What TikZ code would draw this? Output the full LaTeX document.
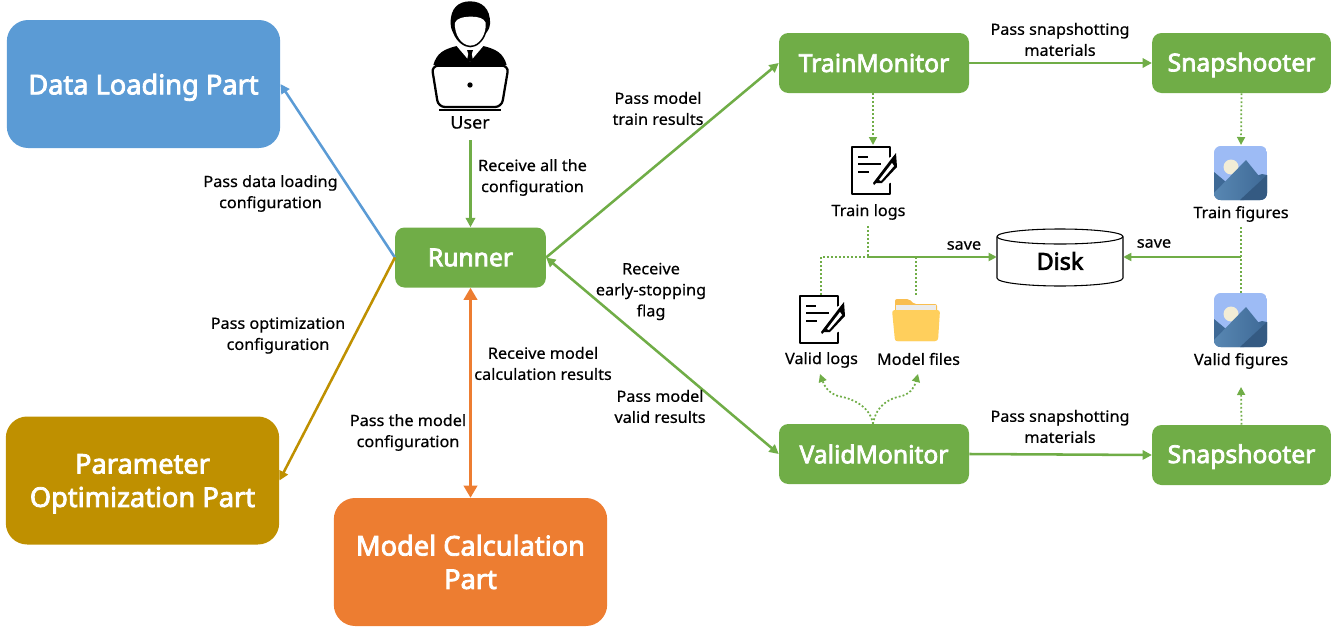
\documentclass[tikz,border=0pt]{standalone}
\usepackage{fontspec}
\setmainfont{Noto Sans}
\newfontfamily\boxfont[FakeBold=3]{Noto Sans}
\newfontfamily\labfont[FakeBold=0.5,FakeStretch=1.04]{Noto Sans}
\usetikzlibrary{arrows.meta,calc}
\definecolor{cblue}{HTML}{5B9BD5}
\definecolor{cgold}{HTML}{BF9000}
\definecolor{corange}{HTML}{ED7D31}
\definecolor{cgreen}{HTML}{70AD47}
\tikzset{
 x=0.75pt,y=-0.75pt,
 bigbox/.style={rounded corners=16pt,text=white,align=center,font=\boxfont\fontsize{20.4}{25}\selectfont,minimum width=205pt,minimum height=96pt,inner sep=0pt},
 greenbox/.style={fill=cgreen,rounded corners=7pt,text=white,font=\boxfont\fontsize{18.5}{21}\selectfont,minimum height=45pt,inner sep=0pt},
 lab/.style={align=center,font=\labfont\fontsize{11.7}{15.8}\selectfont,inner sep=0pt,text=black,yshift=-1.1pt},
 anchorbox/.style={inner sep=0pt,minimum width=#1,minimum height=#1},
 solidg/.style={draw=cgreen,line width=1.9pt,-{Triangle[length=7pt,width=7pt]}},
 dotg/.style={draw=cgreen,line width=1.3pt,dash pattern=on 1.4pt off 1.6pt},
 dotarrow/.style={dotg,-{Triangle[length=6pt,width=6pt,fill=cgreen]}},
}
\newcommand{\logicon}[2]{%
 \begin{scope}[shift={(#1,#2)}]
  \draw[line width=2.1pt,line join=round] (0,0) rectangle (38,47);
  \fill[white] (30,14) -- (43,8) -- (46,32) -- (26,42) -- cycle;
  \draw[line width=2.1pt] (6,10) -- (16,10) (6,17) -- (29,17) (6,25) -- (17,25);
  \fill (21,36) -- (40,11) -- (44,6) -- (45,20) -- (30,36) -- (24,36) -- (22,38) -- cycle;
  \fill[white] (27,33) -- (40,16) -- (42,19) -- (29,34) -- cycle;
 \end{scope}}
\newcommand{\figicon}[2]{%
 \begin{scope}[shift={(#1,#2)}]
  \begin{scope}
   \clip[rounded corners=5pt] (0,0) rectangle (53,54);
   \fill[color={rgb,255:red,157;green,187;blue,245}] (0,0) rectangle (53,54);
   \fill[color={rgb,255:red,243;green,237;blue,214}] (17,21) circle (7.5);
   \fill[color={rgb,255:red,62;green,105;blue,150}] (0,26) -- (12,36) -- (30,54) -- (0,54) -- cycle;
   \fill[color={rgb,255:red,62;green,105;blue,150}] (42,30) -- (48,28) -- (53,29) -- (53,54) -- (30,54) -- cycle;
   \shade[left color={rgb,255:red,88;green,135;blue,178},right color={rgb,255:red,62;green,105;blue,150}] (0,47) -- (32,14) -- (53,40) -- (30,54) -- (0,54) -- cycle;
   \fill[color={rgb,255:red,52;green,90;blue,130}] (26,54) -- (53,29) -- (53,54) -- cycle;
  \end{scope}
 \end{scope}}
\begin{document}
\begin{tikzpicture}
\useasboundingbox (0,0) rectangle (1336,632);
% big boxes
\node[bigbox,fill=cblue,text depth=0pt] (data) at (143.5,84) {Data Loading Part};
\node[bigbox,fill=cgold] (opt) at (142.5,480.5) {\rule{0pt}{19.5pt}Parameter\\Optimization Part};
\node[bigbox,fill=corange] (model) at (470.5,562) {Model Calculation\\Part};
% green boxes
\node[greenbox,minimum width=113pt] (runner) at (470.5,257.5) {Runner};
\node[greenbox,minimum width=142.5pt] (train) at (874,63) {TrainMonitor};
\node[greenbox,minimum width=134pt] (snapA) at (1241.5,63) {\rule{0pt}{17pt}Snapshooter};
\node[greenbox,minimum width=142.5pt] (valid) at (874,454) {ValidMonitor};
\node[greenbox,minimum width=134pt] (snapB) at (1241.5,455) {\rule{0pt}{16.5pt}Snapshooter};
% disk
\node[inner sep=0pt,minimum width=94.5pt,minimum height=43pt] (disk) at (1060,257) {};
\draw[line width=0.8pt,fill=white] (997,237) -- (997,278) .. controls (997,283) and (1029,286) .. (1060,286) .. controls (1091,286) and (1123,283) .. (1123,278) -- (1123,237);
\draw[line width=0.8pt,fill=white] (1060,236.5) ellipse [x radius=63,y radius=7.5];
\node[font=\boxfont\fontsize{17.5}{22}\selectfont] at (1060,261) {Disk};
% user
\begin{scope}[shift={(400,0)},scale=1/3]
 \fill (100,195) .. controls (110,160) and (130,148) .. (170,138) -- (250,138) .. controls (290,148) and (310,160) .. (320,195) -- cycle;
 \fill[white] (170,138) -- (210,185) -- (250,138) -- cycle;
 \fill (201,150) -- (219,150) -- (215,162) -- (220,185) -- (200,185) -- (205,162) -- cycle;
 \fill (152,72) .. controls (150,25) and (175,4) .. (210,4) .. controls (245,4) and (272,25) .. (270,72) .. controls (268,90) and (262,92) .. (258,100) .. controls (250,125) and (230,142) .. (211,142) .. controls (192,142) and (170,125) .. (160,100) .. controls (156,92) and (153,85) .. (152,72) -- cycle;
 \fill[white] (165,68) .. controls (170,55) and (190,50) .. (215,50) .. controls (235,50) and (252,55) .. (257,68) .. controls (260,100) and (240,136) .. (211,137) .. controls (182,136) and (162,100) .. (165,68) -- cycle;
 \draw[line width=1.7pt,rounded corners=5pt,fill=white] (95,197) -- (326,197) -- (305,321) -- (115,321) -- cycle;
 \fill (210,255) circle (8);
 \fill (117,327) rectangle (303,334);
\end{scope}
\node[inner sep=0pt,minimum width=60pt,minimum height=95pt] (usericon) at (470.5,65) {};
\node[lab,font=\labfont\fontsize{13}{15}\selectfont] (user) at (470,121) {User};
% icons with named anchors
\logicon{852}{147}
\node[anchorbox=30pt] (tlog) at (873,170) {};
\logicon{800}{296}
\node[anchorbox=30pt] (vlog) at (819,319) {};
\figicon{1214}{146}
\node[anchorbox=40pt] (tfig) at (1241,173) {};
\figicon{1214}{293}
\node[anchorbox=40pt] (vfig) at (1241,320) {};
% folder
\fill[color={rgb,255:red,249;green,190;blue,79},rounded corners=1.5pt] (895,341) -- (895,299) -- (909,299) -- (914,304) -- (937,304) -- (937,341) -- cycle;
\fill[color={rgb,255:red,235;green,235;blue,235}] (896,305) rectangle (936,313);
\fill[color={rgb,255:red,255;green,207;blue,92},rounded corners=2pt] (892,310) -- (940,310) -- (938,341) -- (895,341) -- cycle;
\node[inner sep=0pt,minimum width=36pt,minimum height=32pt] (folder) at (916,320) {};
% icon labels
\node[lab] (tlogl) at (868.5,210.5) {Train logs};
\node[lab] (vlogl) at (821.5,358.5) {Valid logs};
\node[lab] (foll) at (918.5,357.5) {Model files};
\node[lab] (tfigl) at (1241,212.5) {Train figures};
\node[lab] (vfigl) at (1241,359.5) {Valid figures};
% coordinates
\coordinate (jl) at (868,257);
\coordinate (jr) at (1241,257);
\coordinate (jv) at (821,257);
\coordinate (jm) at (916,257);
\coordinate (usr) at (470.5,140);
% solid connectors
\draw[cblue,line width=1.9pt,-{Triangle[length=7pt,width=7pt]}] (runner.west) -- (data.east);
\draw[cgold,line width=1.9pt,-{Triangle[length=7pt,width=7pt]}] (runner.west) -- (opt.east);
\draw[corange,line width=1.9pt,{Triangle[length=9pt,width=10pt]}-{Triangle[length=9pt,width=10pt]}] (runner.south) -- (model.north);
\draw[solidg] (usr) -- (runner.north);
\draw[solidg] (runner.east) -- (train.west);
\draw[solidg,{Triangle[length=7pt,width=7pt]}-{Triangle[length=7pt,width=7pt]}] (runner.east) -- (valid.west);
\draw[solidg] (train.east) -- (snapA.west);
\draw[solidg] (valid.east) -- (snapB.west);
% dotted
\draw[dotarrow] (train.south -| tlog) -- (873,145);
\draw[dotarrow] (snapA.south) -- (1241,145);
\draw[dotarrow] (snapB.north) -- (1241,387);
\draw[dotg] (868,226) -- (jl);
\draw[dotg] (821,295) -- (jv) -- (jl);
\draw[dotg] (916,295) -- (jm);
\draw[draw=cgreen,line width=1.3pt,-{Triangle[length=6pt,width=6pt,fill=cgreen]}] (jl) -- (disk.west);
\draw[dotg] (1241,227) -- (1241,293);
\draw[draw=cgreen,line width=1.3pt,-{Triangle[length=6pt,width=6pt,fill=cgreen]}] (jr) -- (disk.east);
\draw[dotarrow] (873,424) .. controls (870,405) and (850,398) .. (838,396) .. controls (828,393) and (824,385) .. (820,374);
\draw[dotarrow] (873,424) .. controls (876,405) and (890,398) .. (902,396) .. controls (912,393) and (915,385) .. (918,374);
% labels
\node[lab] at (270.5,192) {Pass data loading\\configuration};
\node[lab] at (278,334) {Pass optimization\\configuration};
\node[lab] at (408,431) {Pass the model\\configuration};
\node[lab] at (543,362) {Receive model\\calculation results};
\node[lab] at (532.5,176) {Receive all the\\configuration};
\node[lab] at (658,107) {Pass model\\train results};
\node[lab] at (651,290) {Receive\\early-stopping\\flag};
\node[lab] at (660,405) {Pass model\\valid results};
\node[lab] at (1060,38) {Pass snapshotting\\materials};
\node[lab] at (1060,425) {Pass snapshotting\\materials};
\node[lab] at (964,244) {save};
\node[lab] at (1154,242) {save};
\end{tikzpicture}
\end{document}
